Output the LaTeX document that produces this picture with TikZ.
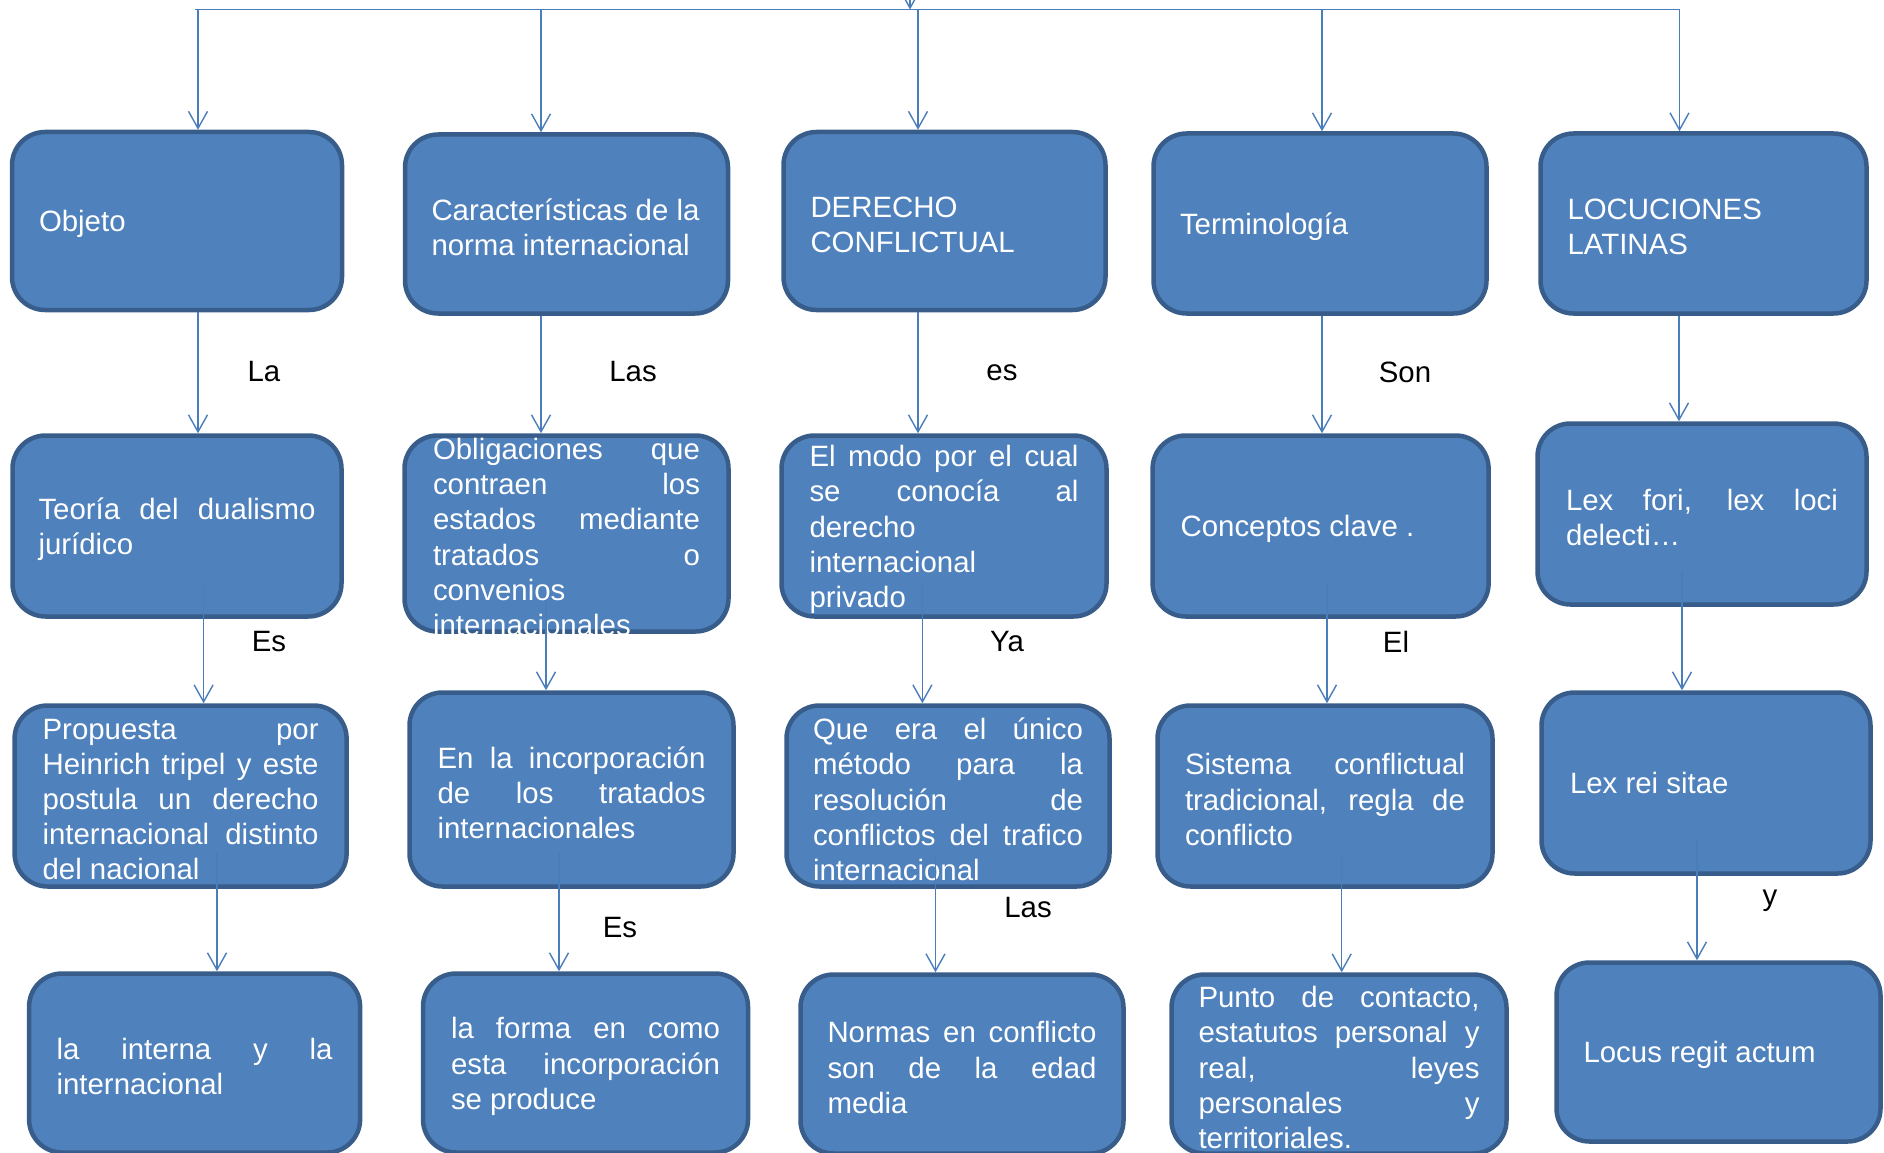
\documentclass[tikz,border=0pt]{standalone}
\usepackage{fontspec}
\setmainfont{Liberation Sans}
\usepackage{tikz}
\usetikzlibrary{shapes,arrows,arrows.meta,calc}
\definecolor{boxfill}{RGB}{79,129,189}
\definecolor{boxedge}{RGB}{56,93,138}
\definecolor{linkcol}{RGB}{74,126,187}
\tikzstyle{line} = [draw=linkcol, line width=1.4pt, -{Straight Barb[length=17pt,width=19pt]}]
\tikzstyle{bus} = [draw=linkcol, line width=1.4pt]
\tikzstyle{block} = [draw=boxedge, fill=boxfill, line width=4.5pt, rectangle, rounded corners=33pt, text=white, align=justify, inner xsep=8pt, inner ysep=0pt, execute at end node={\vadjust{\kern-7pt}}]
\tikzstyle{tag} = [text=black, inner sep=0pt]
\tolerance=10000
\hyphenpenalty=10000

\begin{document}
\begin{tikzpicture}[x=1pt, y=-1pt, font=\fontsize{29.4}{35.2}\selectfont]
    \useasboundingbox (0,0) rectangle (1884,1153);
        % first row
        \node[block, minimum width=330pt, minimum height=178pt, text width=276pt] (objeto) at (177,221) {Objeto};
        \node[block, minimum width=323pt, minimum height=179pt, text width=270pt] (caract) at (566.5,224) {Características de la\\ norma internacional};
        \node[block, minimum width=322pt, minimum height=178pt, text width=268pt] (derecho) at (944.5,221) {DERECHO\\ CONFLICTUAL};
        \node[block, minimum width=333pt, minimum height=180pt, text width=280pt] (termino) at (1320,223.5) {Terminología};
        \node[block, minimum width=326pt, minimum height=180pt, text width=272pt] (locuc) at (1703.5,223.5) {LOCUCIONES\\ LATINAS};
        % second row
        \node[block, minimum width=329pt, minimum height=181pt, text width=277pt] (teoria) at (177,526) {Teoría del dualismo\linebreak jurídico};
        \node[block, minimum width=324pt, minimum height=196pt, text width=267pt] (oblig) at (566.5,533.5) {Obligaciones que\linebreak contraen los\linebreak estados mediante\linebreak tratados o\linebreak convenios\\ internacionales};
        \node[block, minimum width=325pt, minimum height=181pt, text width=269pt] (modo) at (944,526) {El modo por el cual\linebreak se conocía al\linebreak derecho\\ internacional\\ privado};
        \node[block, minimum width=336pt, minimum height=181pt, text width=280pt] (concep) at (1320.6,526) {Conceptos clave .};
        \node[block, minimum width=329pt, minimum height=181pt, text width=272pt] (lexfori) at (1702,514) {Lex fori, lex loci\linebreak delecti…};
        % third row
        \node[block, minimum width=332pt, minimum height=181pt, text width=276pt] (propuesta) at (180.6,796) {Propuesta por\linebreak Heinrich tripel y este\linebreak postula un derecho\linebreak internacional distinto\linebreak del nacional};
        \node[block, minimum width=324pt, minimum height=194pt, text width=268pt] (enla) at (571.5,789.5) {En la incorporación\linebreak de los tratados\linebreak internacionales};
        \node[block, minimum width=323pt, minimum height=181pt, text width=270pt] (queera) at (948,796) {Que era el único\linebreak método para la\linebreak resolución de\linebreak conflictos del trafico\linebreak internacional};
        \node[block, minimum width=335pt, minimum height=181pt, text width=280pt] (sistema) at (1325,796) {Sistema conflictual\linebreak tradicional, regla de\linebreak conflicto};
        \node[block, minimum width=329pt, minimum height=181pt, text width=272pt] (lexrei) at (1706,783) {Lex rei sitae};
        % fourth row
        \node[block, minimum width=331pt, minimum height=179pt, text width=276pt] (interna) at (194.6,1063) {la interna y la\linebreak internacional};
        \node[block, minimum width=325pt, minimum height=179pt, text width=269pt] (forma) at (585.5,1063) {la forma en como\linebreak esta incorporación\linebreak se produce};
        \node[block, minimum width=323pt, minimum height=179pt, text width=269pt] (normas) at (962,1064) {Normas en conflicto\linebreak son de la edad\linebreak media};
        \node[block, minimum width=335pt, minimum height=179pt, text width=281pt] (punto) at (1339,1064) {Punto de contacto,\linebreak estatutos personal y\linebreak real, leyes\linebreak personales y\linebreak territoriales.};
        \node[block, minimum width=324pt, minimum height=179pt, text width=270pt] (locus) at (1718.5,1052) {Locus regit actum};
        % words on the links
        \node[tag] (la) at (264,372) {La};
        \node[tag] (las1) at (633,372) {Las};
        \node[tag] (es1) at (1002,373) {es};
        \node[tag] (son) at (1405,372) {Son};
        \node[tag] (es2) at (269,642) {Es};
        \node[tag] (ya) at (1007,642) {Ya};
        \node[tag] (el) at (1396,642) {El};
        \node[tag] (es3) at (620,928) {Es};
        \node[tag] (las2) at (1028,908) {Las};
        \node[tag] (y) at (1770,901) {y};
        % top bus
        \coordinate (bus) at (0,9.5);
        \coordinate (src) at (910,-40);
        \path[bus] ([xshift=18pt]objeto.north |- bus) -- ([xshift=-24pt]locuc.north |- bus);
        \path[line] (src) -- (src |- bus);
        \path[line] ([xshift=21pt]objeto.north |- bus) -- ([xshift=21pt]objeto.north);
        \path[line] ([xshift=-25.5pt]caract.north |- bus) -- ([xshift=-25.5pt]caract.north);
        \path[line] ([xshift=-26.5pt]derecho.north |- bus) -- ([xshift=-26.5pt]derecho.north);
        \path[line] ([xshift=2pt]termino.north |- bus) -- ([xshift=2pt]termino.north);
        \path[line] ([xshift=-24pt]locuc.north |- bus) -- ([xshift=-24pt]locuc.north);
        % first to second row
        \path[line] ([xshift=21pt]objeto.south) -- ([xshift=21pt]objeto.south |- teoria.north);
        \path[line] ([xshift=-25.5pt]caract.south) -- ([xshift=-25.5pt]caract.south |- oblig.north);
        \path[line] ([xshift=-26.5pt]derecho.south) -- ([xshift=-26.5pt]derecho.south |- modo.north);
        \path[line] ([xshift=2pt]termino.south) -- ([xshift=2pt]termino.south |- concep.north);
        \path[line] ([xshift=-24.5pt]locuc.south) -- ([xshift=-24.5pt]locuc.south |- lexfori.north);
        % second to third row
        \path[line, shorten <=-35pt] ([xshift=26.6pt]teoria.south) -- ([xshift=26.6pt]teoria.south |- propuesta.north);
        \path[line, shorten <=-34pt] ([xshift=-20.5pt]oblig.south) -- ([xshift=-20.5pt]oblig.south |- enla.north);
        \path[line, shorten <=-35pt] ([xshift=-21.6pt]modo.south) -- ([xshift=-21.6pt]modo.south |- queera.north);
        \path[line, shorten <=-35pt] ([xshift=6.4pt]concep.south) -- ([xshift=6.4pt]concep.south |- sistema.north);
        \path[line, shorten <=-35pt] ([xshift=-20pt]lexfori.south) -- ([xshift=-20pt]lexfori.south |- lexrei.north);
        % third to fourth row
        \path[line, shorten <=-36pt] ([xshift=36.4pt]propuesta.south) -- ([xshift=36.4pt]propuesta.south |- interna.north);
        \path[line, shorten <=-36pt] ([xshift=-12.5pt]enla.south) -- ([xshift=-12.5pt]enla.south |- forma.north);
        \path[line, shorten <=-36pt] ([xshift=-12.5pt]queera.south) -- ([xshift=-12.5pt]queera.south |- normas.north);
        \path[line, shorten <=-36pt] ([xshift=16.7pt]sistema.south) -- ([xshift=16.7pt]sistema.south |- punto.north);
        \path[line, shorten <=-36pt] ([xshift=-9pt]lexrei.south) -- ([xshift=-9pt]lexrei.south |- locus.north);
    \end{tikzpicture}
\end{document}
